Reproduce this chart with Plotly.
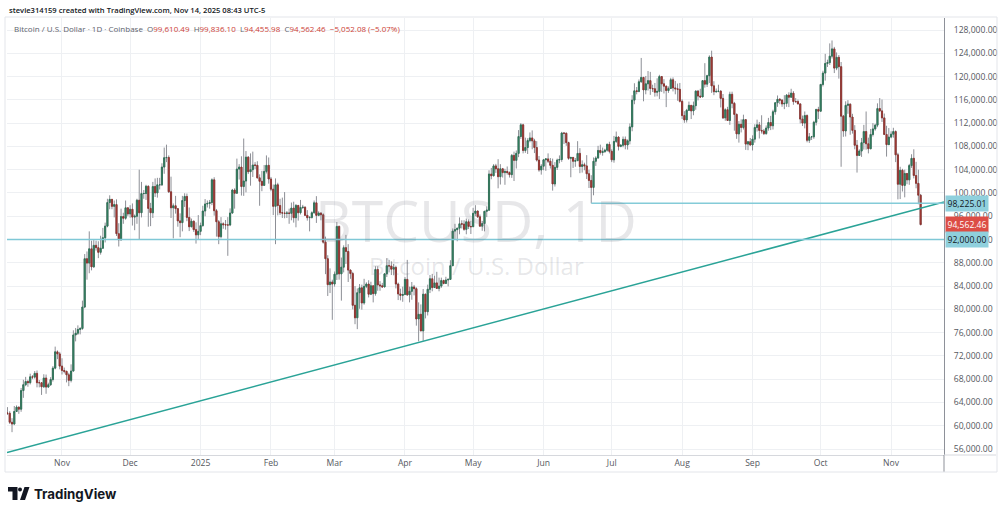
import pandas as pd
import plotly.graph_objects as go

# ---------------- data (prices in thousands of USD, daily candles, Coinbase BTCUSD) ----------------
start_date = "2024-10-08"
end_date = "2025-11-14"
first_open_k = 62.2
last_open_k = 99.61049

closes_k = [
    # Oct 2024 (8-31)
    62.15, 60.6, 60.3, 62.45, 63.2, 62.85, 66.05, 67.05, 67.6, 67.4, 68.4, 68.36, 69.0, 67.4, 67.4, 66.7, 68.2, 66.65, 67.05, 67.95, 69.9, 72.7, 72.35, 70.25,
    # Nov 2024
    69.5, 69.35, 68.75, 67.8, 69.4, 75.6, 75.9, 76.55, 76.7, 80.4, 88.7, 87.95, 90.4, 87.3, 91.0, 90.6, 89.8, 90.5, 92.3, 94.3, 98.35, 98.9, 97.7, 98.0, 93.0, 91.95, 95.95, 95.65, 97.45, 96.4,
    # Dec 2024
    97.2, 95.85, 96.0, 98.75, 96.6, 99.9, 99.9, 101.15, 97.35, 96.6, 101.1, 100.0, 101.4, 101.4, 104.45, 106.05, 106.1, 100.2, 97.45, 97.8, 97.3, 95.2, 94.9, 98.7, 99.4, 95.8, 94.2, 95.15, 93.7, 92.8, 93.4,
    # Jan 2025
    94.4, 96.9, 98.1, 98.2, 98.35, 102.25, 96.95, 95.05, 92.5, 94.7, 94.55, 94.5, 94.5, 96.55, 100.5, 99.95, 104.1, 104.45, 101.1, 102.05, 106.15, 103.65, 104.0, 104.8, 104.75, 102.6, 102.0, 101.3, 103.7, 104.75, 102.4,
    # Feb 2025
    100.65, 97.7, 101.4, 97.85, 96.6, 96.55, 96.5, 96.55, 96.5, 97.4, 95.75, 97.85, 96.6, 97.5, 97.55, 96.15, 95.75, 95.8, 96.6, 98.3, 96.15, 96.55, 96.25, 91.55, 88.7, 84.25, 84.7, 84.35,
    # Mar 2025
    86.05, 94.25, 86.1, 87.25, 90.6, 89.95, 86.75, 86.15, 80.7, 78.55, 82.85, 83.7, 81.1, 83.95, 84.35, 82.6, 84.05, 82.7, 86.85, 84.2, 84.05, 83.85, 86.1, 87.5, 87.45, 86.9, 87.2, 84.35, 82.65, 82.4, 82.55,
    # Apr 2025
    85.15, 82.5, 83.1, 83.85, 83.55, 78.35, 79.15, 76.3, 82.6, 79.6, 83.45, 85.25, 83.75, 84.55, 83.6, 84.0, 84.95, 84.45, 85.05, 85.15, 87.5, 93.45, 93.7, 93.95, 94.7, 94.65, 93.75, 95.05, 94.25, 94.2,
    # May 2025
    96.5, 96.9, 95.9, 94.3, 94.75, 96.85, 97.05, 103.25, 102.95, 104.65, 104.15, 102.8, 104.15, 103.5, 103.7, 103.5, 103.15, 106.45, 105.6, 106.8, 109.7, 111.7, 107.3, 107.8, 109.0, 109.45, 108.95, 107.8, 105.65, 103.95, 104.6,
    # Jun 2025
    105.7, 105.85, 105.45, 104.75, 101.55, 104.4, 105.65, 105.75, 110.3, 110.25, 108.65, 105.95, 106.1, 105.45, 105.55, 106.8, 104.55, 104.85, 104.65, 103.3, 102.15, 100.95, 105.45, 106.0, 107.3, 106.95, 107.1, 107.35, 108.35, 107.15,
    # Jul 2025
    105.7, 108.85, 109.6, 108.0, 108.2, 109.2, 108.25, 108.95, 111.35, 115.95, 117.55, 117.45, 119.1, 119.85, 117.7, 118.75, 119.3, 117.95, 117.9, 117.3, 117.45, 120.0, 118.75, 118.35, 117.6, 117.95, 119.45, 118.05, 117.9, 117.8, 115.75,
    # Aug 2025
    113.3, 112.55, 114.2, 115.05, 114.1, 115.0, 117.5, 116.65, 116.5, 119.3, 118.7, 120.15, 123.35, 118.4, 117.4, 117.45, 117.5, 116.25, 112.9, 114.3, 112.45, 116.95, 115.4, 113.5, 110.15, 111.8, 111.25, 112.6, 108.4, 108.8, 108.25,
    # Sep 2025
    109.25, 111.25, 111.7, 110.75, 110.65, 110.2, 111.15, 112.1, 111.55, 113.95, 115.5, 116.1, 115.95, 115.3, 115.4, 116.8, 116.45, 117.15, 115.7, 115.7, 115.3, 112.7, 112.0, 113.3, 109.05, 109.65, 109.65, 112.15, 114.35, 114.05,
    # Oct 2025
    118.65, 120.6, 122.25, 122.4, 123.5, 124.75, 121.45, 123.3, 121.7, 113.2, 110.65, 115.05, 115.25, 113.05, 110.75, 108.2, 106.45, 107.2, 108.65, 110.55, 108.45, 107.6, 110.05, 111.0, 111.65, 114.5, 114.1, 112.9, 110.05, 108.3, 109.6,
    # Nov 2025 (1-14)
    110.1, 110.55, 106.55, 101.5, 103.9, 101.3, 103.35, 102.25, 104.7, 105.95, 103.0, 101.65, 99.61454, 94.56246,
]

highs_k = [
    63.2, 62.5, 61.3, 63.4, 63.5, 63.3, 66.5, 67.9, 68.4, 67.9, 68.95, 68.7, 69.4, 69.5, 67.85, 67.45, 68.85, 68.8, 67.4, 68.35, 70.25, 73.6, 72.95, 72.7,
    71.6, 70.0, 69.45, 69.1, 70.55, 76.4, 76.8, 77.25, 76.95, 81.5, 89.5, 89.95, 93.4, 91.8, 91.9, 91.8, 91.7, 92.65, 94.0, 94.9, 99.0, 99.6, 98.9, 98.7, 98.9, 94.8, 97.3, 96.6, 98.7, 97.45,
    97.9, 98.2, 96.3, 99.0, 104.0, 101.9, 100.5, 101.4, 101.3, 98.3, 101.9, 102.5, 102.6, 102.6, 105.1, 107.8, 108.3, 106.45, 102.8, 98.2, 99.5, 97.4, 96.5, 99.5, 99.95, 99.9, 97.5, 95.6, 95.25, 94.95, 96.2,
    94.9, 97.8, 98.95, 98.7, 98.8, 102.5, 102.7, 97.25, 95.35, 95.85, 94.95, 95.35, 95.85, 97.35, 100.7, 100.8, 105.9, 104.95, 106.3, 109.35, 107.2, 106.35, 106.8, 107.1, 105.3, 105.45, 103.2, 103.8, 104.8, 106.45, 106.1,
    102.75, 101.45, 102.5, 101.75, 99.0, 99.2, 100.15, 96.9, 97.3, 98.35, 98.5, 98.1, 97.95, 98.8, 97.95, 97.7, 97.05, 96.0, 96.85, 98.7, 99.45, 96.85, 96.65, 96.5, 92.5, 89.3, 87.05, 85.1,
    86.5, 95.0, 94.4, 88.9, 91.0, 92.8, 91.2, 86.85, 86.45, 84.0, 83.6, 84.35, 84.25, 85.25, 84.65, 85.0, 84.75, 84.05, 87.4, 87.4, 84.85, 84.55, 86.25, 88.8, 88.5, 88.25, 87.8, 87.5, 84.6, 83.55, 83.9,
    85.55, 88.5, 83.9, 84.7, 84.2, 83.8, 81.2, 80.85, 83.5, 82.7, 84.25, 85.9, 86.1, 85.8, 86.45, 85.45, 85.45, 85.1, 85.6, 85.3, 88.45, 93.9, 94.7, 94.0, 95.8, 95.3, 95.3, 95.6, 95.45, 95.2,
    97.45, 97.9, 96.95, 96.3, 95.2, 96.9, 97.7, 103.9, 104.3, 104.95, 105.0, 105.8, 104.95, 104.3, 104.15, 104.55, 103.7, 106.7, 107.1, 107.3, 110.8, 112.0, 111.9, 109.5, 109.4, 110.4, 110.75, 109.3, 108.9, 106.35, 104.95,
    105.85, 105.95, 106.8, 106.0, 105.9, 105.3, 105.9, 106.45, 110.5, 110.4, 110.4, 108.8, 106.2, 106.2, 106.0, 108.9, 107.7, 105.6, 105.2, 106.5, 104.0, 103.05, 106.1, 106.3, 108.1, 108.3, 107.8, 107.6, 108.5, 108.8,
    107.5, 109.8, 110.55, 109.75, 108.4, 109.7, 109.7, 109.2, 111.95, 116.8, 118.85, 118.2, 119.5, 123.2, 119.95, 120.1, 120.95, 120.8, 118.6, 118.9, 119.7, 120.3, 120.1, 119.55, 118.45, 118.3, 119.8, 119.85, 119.25, 118.8, 118.9,
    116.1, 114.05, 114.45, 115.7, 115.1, 115.7, 117.65, 117.7, 117.9, 119.3, 122.3, 120.3, 123.65, 124.45, 119.2, 117.95, 118.6, 117.65, 117.0, 114.55, 114.8, 117.4, 117.4, 115.65, 113.65, 112.35, 112.65, 113.45, 112.6, 108.95, 109.45,
    109.9, 111.8, 112.6, 112.2, 113.35, 111.0, 111.6, 112.9, 113.25, 114.3, 115.55, 116.75, 116.3, 116.15, 116.8, 117.0, 117.3, 117.9, 117.5, 116.3, 116.05, 115.4, 113.3, 114.0, 113.5, 110.3, 109.8, 112.4, 114.45, 114.8,
    118.65, 121.0, 123.9, 122.9, 125.7, 126.2, 125.1, 124.15, 123.7, 122.5, 113.4, 115.75, 115.95, 115.4, 113.6, 111.65, 109.1, 107.5, 109.45, 111.7, 114.0, 109.5, 111.0, 112.0, 111.9, 115.4, 116.3, 116.05, 113.65, 111.55, 111.15,
    110.6, 111.2, 110.75, 106.9, 104.5, 104.15, 104.0, 103.4, 105.0, 106.65, 107.5, 105.35, 104.0, 99.8361,
]

lows_k = [
    61.85, 60.3, 58.9, 60.1, 62.4, 62.05, 62.4, 64.8, 66.8, 66.7, 67.1, 68.0, 68.1, 66.6, 66.6, 65.3, 66.5, 65.5, 66.5, 66.85, 67.6, 69.7, 71.45, 69.7,
    68.8, 69.0, 67.45, 66.8, 67.45, 69.35, 74.5, 75.6, 75.7, 76.5, 80.2, 85.1, 86.2, 86.7, 87.15, 90.1, 88.8, 89.4, 90.5, 91.5, 94.1, 97.2, 97.2, 95.8, 92.6, 90.8, 91.8, 94.7, 95.4, 96.0,
    95.75, 94.4, 93.6, 94.7, 92.0, 95.8, 99.0, 98.8, 94.2, 94.3, 95.7, 99.3, 99.2, 100.6, 101.2, 103.3, 105.3, 100.0, 95.7, 92.2, 96.45, 94.2, 92.4, 93.4, 97.6, 95.15, 93.45, 94.1, 93.3, 91.3, 92.0,
    92.75, 94.2, 96.0, 97.5, 97.3, 97.9, 96.1, 92.5, 91.2, 92.2, 93.85, 93.7, 89.2, 94.3, 96.45, 97.3, 99.95, 102.3, 99.55, 99.5, 100.1, 103.25, 101.25, 102.75, 104.1, 102.5, 97.8, 100.3, 101.3, 103.35, 101.6,
    100.3, 96.2, 91.2, 96.15, 96.2, 95.7, 95.65, 95.7, 94.7, 95.3, 94.9, 94.1, 95.25, 96.3, 97.25, 96.05, 95.25, 93.4, 95.6, 96.45, 94.85, 96.0, 95.3, 91.3, 86.05, 82.3, 82.8, 78.2,
    83.9, 85.05, 85.1, 81.5, 86.35, 87.8, 84.7, 85.25, 80.0, 77.45, 76.6, 80.1, 79.95, 80.8, 83.65, 82.05, 82.45, 81.2, 82.35, 83.2, 83.2, 83.7, 83.8, 85.55, 86.35, 85.9, 85.85, 83.6, 81.6, 81.55, 81.3,
    82.45, 82.3, 81.2, 81.65, 82.4, 77.2, 74.5, 76.25, 74.6, 78.45, 78.95, 82.8, 83.1, 83.7, 83.6, 83.1, 83.7, 84.3, 84.4, 83.95, 85.1, 87.45, 91.95, 91.7, 92.9, 93.9, 93.5, 92.9, 93.8, 92.95,
    94.15, 96.0, 95.7, 94.2, 93.5, 93.4, 95.85, 96.9, 102.35, 102.85, 103.45, 100.8, 101.45, 102.65, 101.4, 103.15, 102.65, 102.6, 102.05, 104.2, 106.15, 109.3, 106.8, 106.9, 106.7, 108.7, 107.5, 106.85, 105.4, 103.65, 103.15,
    103.9, 103.8, 105.15, 104.2, 100.4, 101.1, 103.95, 105.1, 105.35, 108.4, 108.1, 105.7, 102.7, 104.3, 104.5, 105.5, 103.4, 103.5, 103.9, 102.4, 100.85, 98.22501, 99.6, 104.65, 105.9, 106.6, 106.4, 106.9, 107.1, 106.8,
    105.3, 105.2, 108.6, 107.3, 107.85, 107.85, 107.5, 107.45, 108.35, 110.6, 115.25, 116.95, 117.3, 118.95, 115.75, 116.95, 117.6, 116.85, 117.35, 116.55, 116.6, 116.15, 117.35, 117.1, 114.75, 117.2, 117.85, 117.45, 116.95, 115.85, 115.55,
    112.7, 112.05, 112.1, 114.1, 112.7, 113.35, 114.3, 115.9, 116.3, 116.55, 118.1, 118.2, 118.9, 117.2, 116.8, 117.2, 117.3, 114.7, 112.7, 112.4, 112.4, 111.7, 114.55, 110.7, 109.3, 108.65, 110.4, 110.9, 107.4, 107.35, 108.1,
    107.3, 108.65, 110.55, 109.35, 110.2, 109.95, 110.0, 110.7, 110.8, 110.9, 113.45, 114.8, 115.25, 114.8, 114.4, 114.8, 114.75, 116.4, 115.15, 115.5, 115.25, 111.95, 111.5, 111.1, 108.7, 108.6, 109.1, 109.3, 111.6, 112.7,
    113.95, 118.3, 119.3, 121.65, 122.0, 123.1, 120.6, 121.1, 119.65, 104.5, 109.65, 109.7, 113.6, 110.0, 110.2, 107.5, 103.5, 106.35, 106.2, 107.45, 107.45, 106.8, 107.5, 109.7, 110.7, 111.3, 113.9, 112.2, 109.95, 106.25, 108.3,
    109.4, 109.5, 105.3, 98.9, 98.95, 100.25, 99.25, 101.5, 101.4, 104.3, 102.5, 100.8, 98.05, 94.45598,
]

# drawings (TradingView-style)
trend_dates = ["2024-10-07 19:00", "2025-11-24 07:00"]
trend_prices = [55400, 98450]
ray_start = "2025-06-22"
ray_price = 98225.01
support_price = 92000.00
change_abs = -5052.08

month_ticks = ["2024-11-01", "2024-12-01", "2025-01-01", "2025-02-01", "2025-03-01", "2025-04-01", "2025-05-01",
               "2025-06-01", "2025-07-01", "2025-08-01", "2025-09-01", "2025-10-01", "2025-11-01"]
month_labels = ["Nov", "Dec", "2025", "Feb", "Mar", "Apr", "May", "Jun", "Jul", "Aug", "Sep", "Oct", "Nov"]
price_ticks = list(range(56000, 128001, 4000))

x_range = ["2024-10-07 19:00", "2025-11-24 07:00"]
y_range = [54976, 130062]

# ---------------- build ----------------
dates = pd.date_range(start_date, end_date, freq="D")
closes = [round(v * 1000, 2) for v in closes_k]
highs = [round(v * 1000, 2) for v in highs_k]
lows = [round(v * 1000, 2) for v in lows_k]
opens = [round(first_open_k * 1000, 2)] + closes[:-1]
opens[-1] = round(last_open_k * 1000, 2)
assert len(dates) == len(closes) == len(highs) == len(lows)
highs = [max(h, o, c) for h, o, c in zip(highs, opens, closes)]
lows = [min(l, o, c) for l, o, c in zip(lows, opens, closes)]
body_hi = [max(o, c) for o, c in zip(opens, closes)]
body_lo = [min(o, c) for o, c in zip(opens, closes)]

UP_FILL, UP_LINE = "#3b8e6a", "#2a6f53"
DN_FILL, DN_LINE = "#b5433c", "#8c2f2a"
WICK = "#8d8f96"

fig = go.Figure()
# wicks
fig.add_trace(go.Candlestick(
    x=dates, open=opens, high=highs, low=lows, close=closes,
    increasing=dict(line=dict(color=WICK, width=1), fillcolor=WICK),
    decreasing=dict(line=dict(color=WICK, width=1), fillcolor=WICK),
    hoverinfo="skip", showlegend=False))
# bodies
fig.add_trace(go.Candlestick(
    x=dates, open=opens, high=body_hi, low=body_lo, close=closes,
    increasing=dict(line=dict(color=UP_LINE, width=0.8), fillcolor=UP_FILL),
    decreasing=dict(line=dict(color=DN_LINE, width=0.8), fillcolor=DN_FILL),
    hoverinfo="skip", showlegend=False))

# trend line
fig.add_trace(go.Scatter(x=trend_dates, y=trend_prices, mode="lines",
                         line=dict(color="#2aa397", width=1.5), hoverinfo="skip", showlegend=False))
# horizontal ray from June low
fig.add_trace(go.Scatter(x=[ray_start, x_range[1]], y=[ray_price, ray_price], mode="lines",
                         line=dict(color="#84cbd8", width=1.5), hoverinfo="skip", showlegend=False))
# horizontal support line
fig.add_trace(go.Scatter(x=x_range, y=[support_price, support_price], mode="lines",
                         line=dict(color="#7fc8d6", width=1.5), hoverinfo="skip", showlegend=False))

# pixel helpers for decorations (plot area: x 7..944, y 18..455)
def px(xp):
    return (xp - 7) / 937.0

def py(yp):
    return (455 - yp) / 437.0

AX = "#8e9199"
shapes = [
    dict(type="line", xref="paper", yref="paper", x0=1, x1=1, y0=py(472), y1=0, line=dict(color=AX, width=1)),
    dict(type="line", xref="paper", yref="paper", x0=1, x1=px(996), y0=0, y1=0, line=dict(color="#d6d8dd", width=1)),
    dict(type="rect", xref="paper", yref="paper", x0=px(5), x1=px(997), y0=py(472), y1=py(17),
         line=dict(color="#e3e5ea", width=1)),
    # TradingView logo glyph
    dict(type="path", xref="paper", yref="paper",
         path=f"M {px(8)},{py(487)} L {px(17.5)},{py(487)} L {px(17.5)},{py(500)} L {px(12.5)},{py(500)} "
              f"L {px(12.5)},{py(491.5)} L {px(8)},{py(491.5)} Z",
         fillcolor="#131722", line=dict(width=0)),
    dict(type="circle", xref="paper", yref="paper", x0=px(18), x1=px(22), y0=py(491.5), y1=py(487.5),
         fillcolor="#131722", line=dict(width=0)),
    dict(type="path", xref="paper", yref="paper",
         path=f"M {px(24.5)},{py(487)} L {px(29.5)},{py(487)} L {px(25)},{py(500)} L {px(20)},{py(500)} Z",
         fillcolor="#131722", line=dict(width=0)),
]

RED = "#cc3f38"
o, h, l, c = opens[-1], highs[-1], lows[-1], closes[-1]
pct = change_abs / closes[-2] * 100
legend_txt = ("Bitcoin / U.S. Dollar · 1D · Coinbase  "
              f"O<span style='color:{RED}'>{o:,.2f}</span>  H<span style='color:{RED}'>{h:,.2f}</span>  "
              f"L<span style='color:{RED}'>{l:,.2f}</span>  C<span style='color:{RED}'>{c:,.2f}</span>  "
              f"<span style='color:{RED}'>{change_abs:,.2f} ({pct:.2f}%)</span>").replace("-", "−")

WM = "rgba(110,113,124,0.17)"
annotations = [
    dict(xref="paper", yref="paper", x=0, y=py(10), xanchor="left", yanchor="middle", showarrow=False,
         text="stevie314159 created with TradingView.com, Nov 14, 2025 08:43 UTC-5",
         font=dict(family="Open Sans", size=7.6, color="#131722", weight=600)),
    dict(xref="paper", yref="paper", x=px(12), y=py(28.5), xanchor="left", yanchor="middle", showarrow=False,
         text=legend_txt, font=dict(family="Open Sans", size=8.0, color="#60636d")),
    dict(xref="paper", yref="paper", x=px(476), y=py(220), xanchor="center", yanchor="middle", showarrow=False,
         text="BTCUSD, 1D", font=dict(family="Open Sans", size=57, color=WM)),
    dict(xref="paper", yref="paper", x=px(476), y=py(265), xanchor="center", yanchor="middle", showarrow=False,
         text="Bitcoin / U.S. Dollar", font=dict(family="Open Sans", size=24, color=WM)),
    dict(xref="paper", yref="paper", x=px(32), y=py(494), xanchor="left", yanchor="middle", showarrow=False,
         text="TradingView", font=dict(family="Inter", size=13.3, color="#131722", weight=700)),
]
for val, bg, fg in [(ray_price, "#8fd0dd", "#131722"), (closes[-1], "#dc4d45", "#ffffff"),
                    (support_price, "#8fd0dd", "#131722")]:
    annotations.append(dict(xref="paper", yref="y", x=1, y=val, xanchor="left", yanchor="middle", xshift=1,
                            showarrow=False, text=f"{val:,.2f}", bgcolor=bg, borderpad=1.5,
                            font=dict(family="Open Sans", size=8.6, color=fg)))

fig.update_layout(
    width=1000, height=515,
    margin=dict(l=7, r=56, t=18, b=60, autoexpand=False),
    paper_bgcolor="white", plot_bgcolor="white",
    showlegend=False, hovermode=False,
    shapes=shapes, annotations=annotations,
    xaxis=dict(type="date", range=x_range, rangeslider=dict(visible=False), automargin=False,
               tickvals=month_ticks, ticktext=month_labels, ticks="",
               showgrid=True, gridcolor="#eef0f3", gridwidth=1, zeroline=False,
               showline=True, linecolor="#d6d8dd", linewidth=1,
               tickfont=dict(family="Open Sans", size=8.6, color="#555860")),
    yaxis=dict(side="right", range=y_range, tickvals=price_ticks, tickformat=",.2f", ticks="",
               automargin=False,
               showgrid=True, gridcolor="#eef0f3", gridwidth=1, zeroline=False,
               showline=True, linecolor=AX, linewidth=1, ticklabelstandoff=7,
               tickfont=dict(family="Open Sans", size=8.6, color="#555860")),
)

fig.write_html("out.html", config={"displayModeBar": False, "staticPlot": True},
               post_script="document.body.style.margin='0';document.body.style.overflow='hidden';")
